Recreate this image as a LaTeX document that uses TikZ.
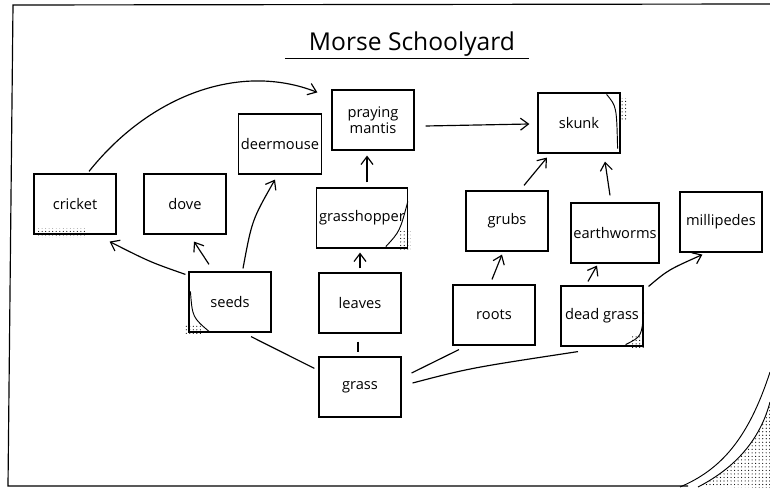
\documentclass[tikz,border=0pt]{standalone}
\usepackage{fontspec}
\setmainfont{Open Sans}
\usetikzlibrary{arrows.meta,calc,patterns}
\tikzset{
  card/.style={rectangle, draw, line width=1pt, align=center,
               font=\fontsize{12.5}{14}\selectfont, minimum width=2.46cm,
               minimum height=1.8cm, inner sep=2pt},
  fl/.style={-{Straight Barb[length=2.4mm,width=3.6mm]}, line width=1pt},
  ln/.style={line width=1pt},
  curl/.style={line width=0.8pt},
  stip/.style={pattern=dots, draw=none},
}

\begin{document}
\begin{tikzpicture}[x=0.03cm,y=-0.03cm]
\useasboundingbox (0,0) rectangle (770,488);
% page
\draw[ln] (770,4) -- (13,5) -- (8,486) -- (688,486);
\draw[curl] (680,487) .. controls (720,470) and (748,440) .. (770,372);
\draw[curl] (698,487) .. controls (735,468) and (760,440) .. (770,402);
\fill[stip] (698,487) .. controls (735,468) and (760,440) .. (770,402) -- (770,488) -- cycle;
% title
\node[font=\fontsize{21}{25}\selectfont] (title) at (412,44) {Morse Schoolyard};
\draw[ln] ($(title.south west)+(-20,-2)$) -- ($(title.south east)+(10,-2)$);
% cards
\node[card] (cricket) at (75,204) {cricket};
\node[card] (dove) at (185,204) {dove};
\node[card] (deermouse) at (280,144) {deermouse};
\node[card] (mantis) at (373,120) {praying\\mantis};
\node[card] (skunk) at (579,123) {skunk};
\node[card] (grasshopper) at (362,218) {grasshopper};
\node[card] (grubs) at (507,221) {grubs};
\node[card] (earthworms) at (615,233) {earthworms};
\node[card] (millipedes) at (721,222) {millipedes};
\node[card] (seeds) at (230,302) {seeds};
\node[card] (leaves) at (360,303) {leaves};
\node[card] (roots) at (494,315) {roots};
\node[card] (deadgrass) at (602,316) {dead grass};
\node[card] (grass) at (360,387) {grass};
% curled corners
\draw[curl] ($(skunk.north east)+(-14,2)$) .. controls +(10,12) .. ($(skunk.south east)+(-3,-5)$);
\fill[stip] ($(skunk.north east)+(1,6)$) rectangle ($(skunk.north east)+(6,28)$);
\draw[curl] ($(grasshopper.north east)+(0,14)$) .. controls +(-8,30) .. ($(grasshopper.south east)+(-22,-2)$);
\fill[stip] ($(grasshopper.south east)+(-10,-18)$) rectangle ($(grasshopper.south east)+(3,2)$);
\draw[curl] ($(seeds.north west)+(2,20)$) .. controls +(2,26) .. ($(seeds.south west)+(22,0)$);
\fill[stip] ($(seeds.south west)+(-4,-8)$) rectangle ($(seeds.south west)+(14,2)$);
\draw[curl] ($(deadgrass.south east)+(0,-34)$) .. controls +(-2,24) .. ($(deadgrass.south east)+(-18,-2)$);
\fill[stip] ($(deadgrass.south east)+(-12,-10)$) rectangle ($(deadgrass.south east)+(2,2)$);
\fill[stip] ($(cricket.south west)+(4,-6)$) rectangle ($(cricket.south west)+(52,3)$);
% eating links
\draw[fl] ($(cricket.north)+(14,-2)$) .. controls (150,95) and (240,62) .. ($(mantis.north west)+(-14,3)$);
\draw[fl] ($(seeds.north west)+(-3,3)$) .. controls (150,262) .. ($(cricket.south east)+(-7,7)$);
\draw[fl] ($(seeds.north)+(-21,-7)$) -- ($(dove.south)+(9,7)$);
\draw[fl] ($(seeds.north)+(13,-3)$) .. controls (252,220) .. ($(deermouse.south)+(-5,5)$);
\draw[fl] ($(leaves.north)+(0,-4)$) -- ($(grasshopper.south)+(-2,4)$);
\draw[fl] ($(grasshopper.north)+(5,-5)$) -- ($(mantis.south)+(-6,5)$);
\draw[fl] ($(mantis.east)+(11,6)$) -- ($(skunk.west)+(-8,1)$);
\draw[fl] ($(grubs.north)+(17,-5)$) -- ($(skunk.south)+(-32,4)$);
\draw[fl] ($(earthworms.north)+(-5,-7)$) -- ($(skunk.south)+(26,8)$);
\draw[fl] ($(roots.north)+(-2,-5)$) -- ($(grubs.south)+(-5,3)$);
\draw[fl] ($(deadgrass.north)+(-14,-4)$) -- ($(earthworms.south)+(-18,2)$);
\draw[fl] ($(deadgrass.north east)+(5,1)$) .. controls (668,270) .. ($(millipedes.south west)+(23,2)$);
% grass links
\draw[ln] ($(seeds.south)+(21,4)$) -- ($(grass.north west)+(-4,12)$);
\draw[ln] ($(leaves.south)+(-2,8)$) -- ($(grass.north)+(-2,-4)$);
\draw[ln] ($(grass.east)+(10,-14)$) -- ($(roots.south)+(-35,4)$);
\draw[ln] ($(grass.east)+(11,-4)$) .. controls (470,368) .. ($(deadgrass.south)+(-24,5)$);
\end{tikzpicture}
\end{document}
